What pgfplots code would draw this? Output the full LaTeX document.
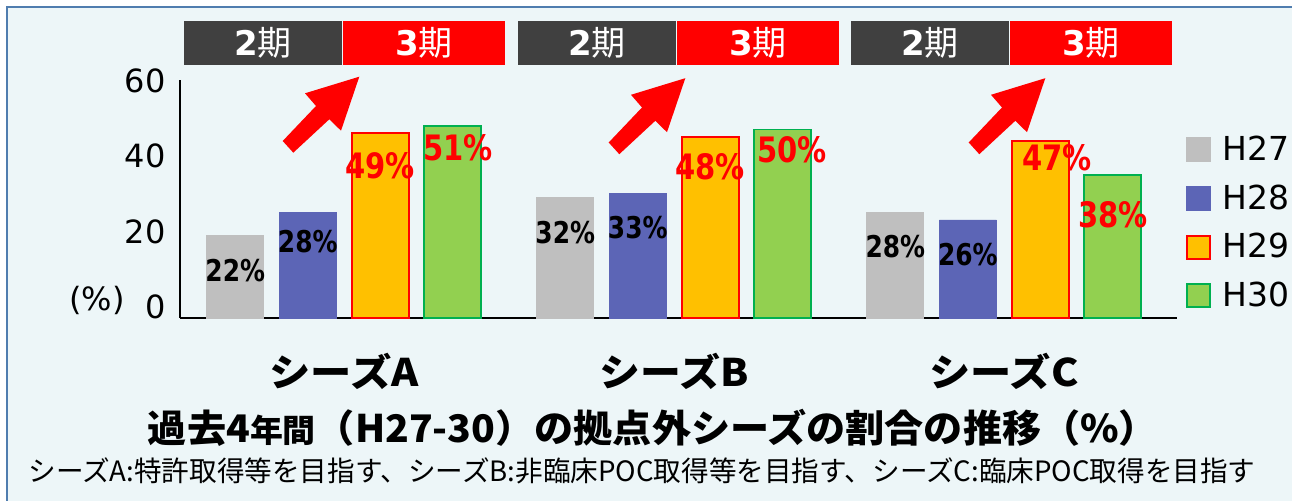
\documentclass[border=0pt]{standalone}
\usepackage{fontspec}
\setmainfont{DejaVu Sans}
\newfontfamily\jp{Noto Sans CJK JP}
\newfontfamily\lbl[FakeStretch=0.83]{DejaVu Sans}
\usepackage{graphicx}
\usepackage{pgfplots}
\usepackage{pgfplotstable}
\pgfplotsset{compat=1.18}
\definecolor{bgc}{RGB}{237,246,248}
\definecolor{bordc}{RGB}{80,125,175}
\definecolor{cgrey}{RGB}{191,191,191}
\definecolor{cblue}{RGB}{92,101,182}
\definecolor{corange}{RGB}{255,192,0}
\definecolor{cgreen}{RGB}{146,208,80}
\definecolor{cgreenb}{RGB}{0,176,80}
\definecolor{cdark}{RGB}{64,64,64}
\definecolor{cred}{RGB}{255,0,0}
% x = group, y = value, off = label centre below bar top (px), dx = label x offset (px)
\pgfplotstableread{
x y off dx
0 22 35.5 0
1 32 35.2 0
2 28 34.2 0
}\tA
\pgfplotstableread{
x y off dx
0 28 29.5 0
1 33 34.2 0
2 26 35.0 0
}\tB
\pgfplotstableread{
x y off dx
0 49 32.5 0
1 48 29.5 0
2 47 17.5 17
}\tC
\pgfplotstableread{
x y off dx
0 51 22.3 5.5
1 50 20.5 9
2 38 39.7 0
}\tD
\pgfplotsset{lbls/.style={
  nodes near coords={\pgfmathprintnumber{\pgfplotspointmeta}\%},
  visualization depends on={\thisrow{off} \as \off},
  visualization depends on={\thisrow{dx} \as \dxx},
  every node near coord/.append style={anchor=center, inner sep=0pt, yshift=-\off*0.5pt, xshift=\dxx*0.5pt}}}
\begin{document}
\begin{tikzpicture}
\useasboundingbox (0pt,0pt) rectangle (646pt,-250.5pt);
\fill[white] (0pt,0pt) rectangle (646pt,-250.5pt);
\begin{scope}[x=0.5pt,y=-0.5pt]
\filldraw[fill=bgc,draw=bordc,line width=1.2pt] (7,7) rectangle (1320,530);
% period banners
\foreach \dx in {0,334,667}{
  \fill[cdark] (184+\dx,21) rectangle (342+\dx,65);
  \fill[cred] (343+\dx,21) rectangle (505+\dx,65);
  \node[text=white,inner sep=0pt] at (263+\dx,43) {\fontsize{17}{17}\selectfont\bfseries 2{\jp\mdseries 期}};
  \node[text=white,inner sep=0pt] at (424+\dx,43) {\fontsize{17}{17}\selectfont\bfseries 3{\jp\mdseries 期}};
}
% arrows
\foreach \dx/\dy in {0/0,326/1.5,686/1.5}{
  \fill[cred] (282.7+\dx,141+\dy) -- (316+\dx,106+\dy) -- (305+\dx,93.3+\dy) -- (359.3+\dx,76.7+\dy)
     -- (341+\dx,130.7+\dy) -- (329.3+\dx,119.3+\dy) -- (293.3+\dx,152.7+\dy) -- cycle;
}
\node[inner sep=0pt] at (653,428) {\resizebox{505pt}{\height}{\jp\bfseries\fontsize{19}{19}\selectfont 過去4{\fontsize{16}{16}\selectfont 年間}（H27-30）の拠点外シーズの割合の推移（\%）}};
\node[inner sep=0pt] at (642,471) {\resizebox{613.5pt}{\height}{\jp\fontsize{14}{14}\selectfont シーズA:特許取得等を目指す、シーズB:非臨床POC取得等を目指す、シーズC:臨床POC取得を目指す}};
\node[inner sep=0pt] at (97,300) {\fontsize{16}{16}\selectfont (\%)};
\end{scope}
\begin{axis}[
  at={(90pt,-159pt)}, anchor=south west,
  scale only axis, width=498.5pt, height=119pt,
  xmin=-0.497, xmax=2.524, ymin=0, ymax=63.1,
  axis x line=bottom, axis y line=left,
  axis line style={line width=1.25pt, black, -},
  major tick length=0pt,
  xtick={0,1,2},
  xticklabels={{\resizebox{74.5pt}{\height}{シーズA}},{\resizebox{74.5pt}{\height}{シーズB}},{\resizebox{74.5pt}{\height}{シーズC}}},
  xticklabel style={font=\jp\bfseries\fontsize{19}{19}\selectfont, anchor=base, yshift=-34.5pt, inner sep=0pt},
  ytick={0,20,40,60},
  yticklabel style={font=\fontsize{16}{16}\selectfont, anchor=east, inner sep=0pt, xshift=-7pt, yshift=5.5pt},
  /pgf/number format/assume math mode=true,
  clip=false,
  ybar, bar width=28.5pt,
  legend image code/.code={\draw[#1,line width=1pt] (0pt,-5.75pt) rectangle (11.5pt,5.75pt);},
  legend style={at={(1.009,0.7668)}, anchor=north west, draw=none, fill=none,
    font=\fontsize{16.5}{16.5}\selectfont, inner sep=0pt, row sep=10.6pt, column sep=5.5pt,
    nodes={inner sep=0pt}},
  legend cell align=left,
]
\addplot[fill=cgrey, draw=cgrey, bar shift=-54.375pt, lbls,
  every node near coord/.append style={font=\lbl\bfseries\fontsize{15}{15}\selectfont, text=black}]
  table[x=x,y=y] {\tA};
\addlegendentry{H27}
\addplot[fill=cblue, draw=cblue, bar shift=-18.125pt, lbls,
  every node near coord/.append style={font=\lbl\bfseries\fontsize{15}{15}\selectfont, text=black}]
  table[x=x,y=y] {\tB};
\addlegendentry{H28}
\addplot[fill=corange, draw=cred, line width=0.9pt, bar shift=18.125pt, lbls,
  every node near coord/.append style={font=\lbl\bfseries\fontsize{17.5}{17.5}\selectfont, text=cred}]
  table[x=x,y=y] {\tC};
\addlegendentry{H29}
\addplot[fill=cgreen, draw=cgreenb, line width=0.9pt, bar shift=54.375pt, lbls,
  every node near coord/.append style={font=\lbl\bfseries\fontsize{17.5}{17.5}\selectfont, text=cred}]
  table[x=x,y=y] {\tD};
\addlegendentry{H30}
\end{axis}
\end{tikzpicture}
\end{document}
